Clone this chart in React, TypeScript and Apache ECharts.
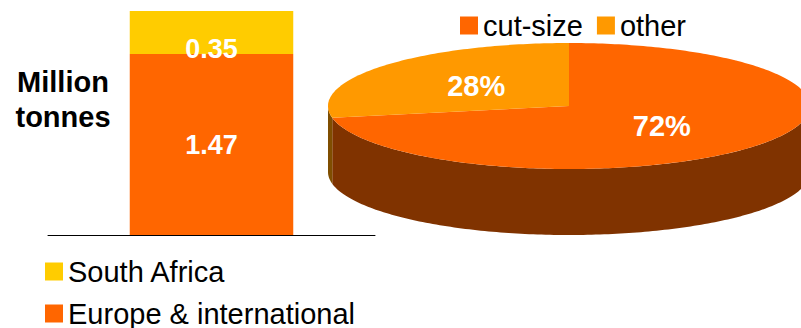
import React, { useEffect, useRef } from "react";
import * as echarts from "echarts";

// ---- data ----
const barCategories = ["Paper"];
const barSeriesNames = ["Europe & international", "South Africa"];
const europeValues = [1.47];
const southAfricaValues = [0.35];
const barLegendOrder = ["South Africa", "Europe & international"];
const axisTitle = "Million\ntonnes";

const pieCategories = ["cut-size", "other"];
const pieValues = [72, 28];

// ---- styles ----
const FONT = "'Liberation Sans', Arial, sans-serif";
const barColors = ["#FF6600", "#FFCC00"];
const pieTopColors = ["#FF6600", "#FF9900"];
const pieSideColors = ["#803300", "#7F4E00"];
const PIE = { cx: 569, cy: 106, rx: 241, ry: 63, depth: 66, labelR: 0.5 };
const barLegendTops = [257, 299];

function pt(a: number, dy = 0): number[] {
  const r = (a * Math.PI) / 180;
  return [PIE.cx + PIE.rx * Math.cos(r), PIE.cy - PIE.ry * Math.sin(r) + dy];
}

function sliceRange(i: number) {
  const total = pieValues.reduce((s, v) => s + v, 0);
  let before = 0;
  for (let k = 0; k < i; k++) before += pieValues[k];
  const start = 90 - (before * 360) / total;
  const end = start - (pieValues[i] * 360) / total;
  return { lo: end, hi: start };
}

function renderSlice(i: number) {
  const { lo, hi } = sliceRange(i);
  const children: any[] = [];
  // side faces (front half: sin < 0)
  const fronts = [[-540, -360], [-180, 0], [180, 360]];
  for (const [f0, f1] of fronts) {
    const a0 = Math.max(lo, f0);
    const a1 = Math.min(hi, f1);
    if (a1 > a0) {
      const top: number[][] = [];
      const bottom: number[][] = [];
      const steps = Math.max(2, Math.ceil(a1 - a0));
      for (let s = 0; s <= steps; s++) {
        const a = a0 + ((a1 - a0) * s) / steps;
        top.push(pt(a));
        bottom.push(pt(a, PIE.depth));
      }
      children.push({
        type: "polygon",
        z2: 1,
        shape: { points: top.concat(bottom.reverse()) },
        style: { fill: pieSideColors[i] },
      });
    }
  }
  // top face
  const pts: number[][] = [[PIE.cx, PIE.cy]];
  const steps = Math.max(2, Math.ceil(hi - lo));
  for (let s = 0; s <= steps; s++) {
    pts.push(pt(lo + ((hi - lo) * s) / steps));
  }
  children.push({
    type: "polygon",
    z2: 2,
    shape: { points: pts },
    style: { fill: pieTopColors[i] },
  });
  // label
  const mid = ((lo + hi) / 2) * (Math.PI / 180);
  children.push({
    type: "text",
    z2: 3,
    x: PIE.cx + PIE.labelR * PIE.rx * Math.cos(mid),
    y: PIE.cy - PIE.labelR * PIE.ry * Math.sin(mid),
    style: {
      text: `${pieValues[i]}%`,
      fill: "#ffffff",
      fontSize: 29,
      fontWeight: "bold",
      fontFamily: FONT,
      align: "center",
      verticalAlign: "middle",
    },
  });
  return { type: "group", children };
}

export default function App() {
  const ref = useRef<HTMLDivElement>(null);
  useEffect(() => {
    if (!ref.current) return;
    const chart = echarts.init(ref.current, null, { renderer: "svg" });
    const barTotal = europeValues[0] + southAfricaValues[0];
    const legendText = { fontSize: 29, lineHeight: 28, color: "#000", fontFamily: FONT };
    const option: any = {
      animation: false,
      backgroundColor: "#ffffff",
      textStyle: { fontFamily: FONT },
      grid: { left: 48, right: 426, top: 11, bottom: 93 },
      xAxis: {
        type: "category",
        data: barCategories,
        axisLine: { show: true, lineStyle: { color: "#000", width: 1 } },
        axisTick: { show: false },
        axisLabel: { show: false },
      },
      yAxis: {
        type: "value",
        min: 0,
        max: barTotal,
        show: false,
        splitLine: { show: false },
      },
      legend: [
        ...barLegendOrder.map((name, k) => ({
          data: [name],
          orient: "horizontal",
          left: 45,
          top: barLegendTops[k],
          padding: 0,
          itemWidth: 18,
          itemHeight: 18,
          icon: "rect",
          textStyle: legendText,
        })),
        {
          data: pieCategories,
          orient: "horizontal",
          left: 460,
          top: 11,
          padding: 0,
          itemWidth: 18,
          itemHeight: 18,
          itemGap: 14,
          icon: "rect",
          textStyle: legendText,
        },
      ],
      graphic: [
        {
          type: "text",
          x: 63,
          y: 99,
          style: {
            text: axisTitle,
            fontSize: 29,
            fontWeight: "bold",
            fontFamily: FONT,
            fill: "#000",
            align: "center",
            verticalAlign: "middle",
            lineHeight: 35,
          },
        },
      ],
      series: [
        {
          name: barSeriesNames[0],
          type: "bar",
          stack: "total",
          barWidth: "50%",
          data: europeValues,
          itemStyle: { color: barColors[0] },
          label: {
            show: true,
            position: "inside",
            color: "#fff",
            fontSize: 27,
            fontWeight: "bold",
            fontFamily: FONT,
          },
        },
        {
          name: barSeriesNames[1],
          type: "bar",
          stack: "total",
          barWidth: "50%",
          data: southAfricaValues,
          itemStyle: { color: barColors[1] },
          label: {
            show: true,
            position: "inside",
            offset: [0, 16],
            color: "#fff",
            fontSize: 27,
            fontWeight: "bold",
            fontFamily: FONT,
          },
        },
        ...pieCategories.map((name, i) => ({
          name,
          type: "custom",
          coordinateSystem: "none",
          silent: true,
          itemStyle: { color: pieTopColors[i] },
          data: [pieValues[i]],
          renderItem: () => renderSlice(i),
        })),
      ],
    };
    chart.setOption(option);
    return () => chart.dispose();
  }, []);
  return (
    <div
      ref={ref}
      style={{ position: "fixed", left: 0, top: 0, width: 801, height: 328 }}
    />
  );
}
